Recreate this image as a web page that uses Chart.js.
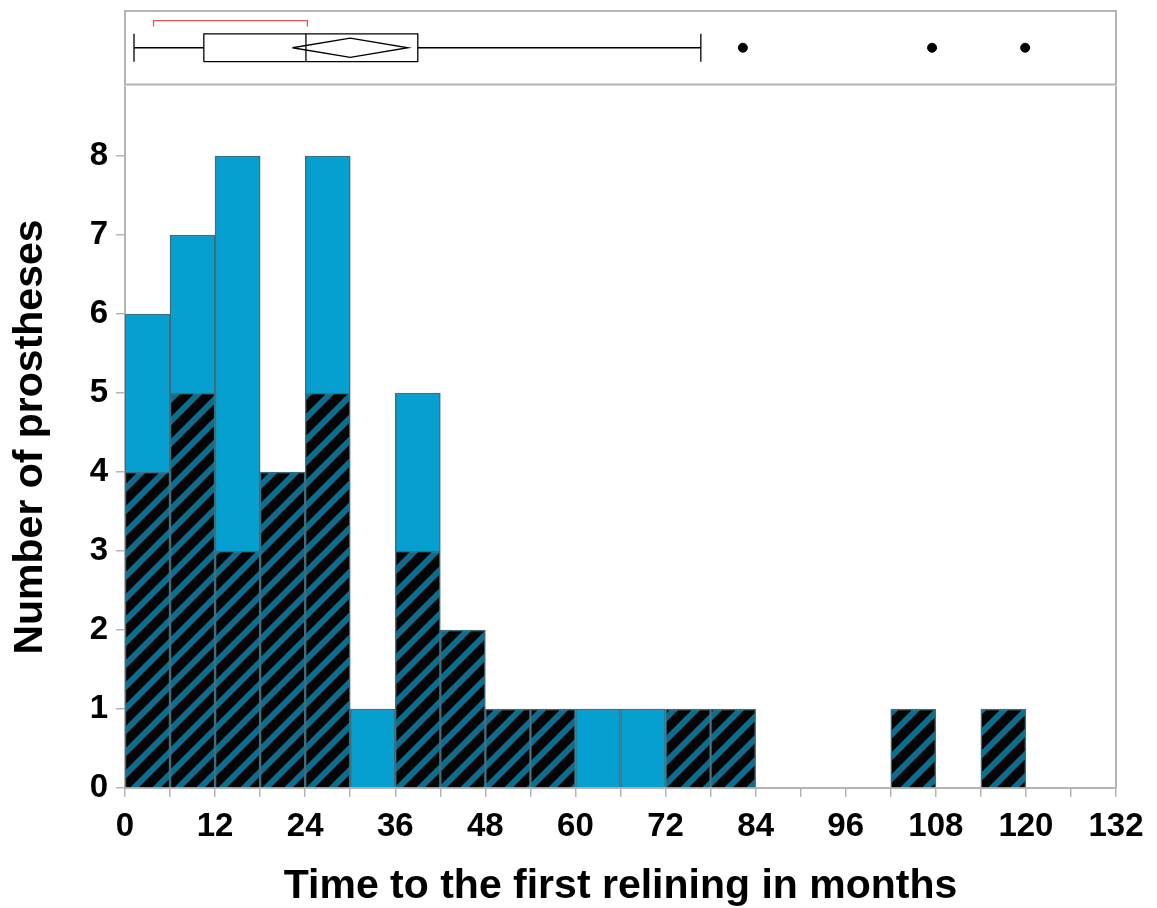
<!DOCTYPE html>
<html>
<head>
<meta charset="utf-8">
<script src="https://cdn.jsdelivr.net/npm/chart.js@4.4.0/dist/chart.umd.min.js"></script>
<style>
  html, body { margin: 0; padding: 0; background: #fff; overflow: hidden; }
  #wrap { position: relative; width: 1157px; height: 908px; overflow: hidden; }
  #histWrap { position: absolute; left: 0; top: 86px; width: 1157px; height: 825px; }
  #boxWrap { position: absolute; left: 0; top: 0; width: 1157px; height: 90px; }
</style>
</head>
<body>
<div id="wrap">
  <div id="histWrap"><canvas id="histChart"></canvas></div>
  <div id="boxWrap"><canvas id="boxChart"></canvas></div>
</div>
<script>
// histogram bins (months), 6-month width
const binStarts = [0, 6, 12, 18, 24, 30, 36, 42, 48, 54, 60, 66, 72, 78, 84, 90, 96, 102, 108, 114, 120, 126];
const binWidth = 6;
const hatchedCounts = [4, 5, 3, 4, 5, 0, 3, 2, 1, 1, 0, 0, 1, 1, 0, 0, 0, 1, 0, 1, 0, 0];
const solidCounts   = [2, 2, 5, 0, 3, 1, 2, 0, 0, 0, 1, 1, 0, 0, 0, 0, 0, 0, 0, 0, 0, 0];
const xTickLabels = [0, 12, 24, 36, 48, 60, 72, 84, 96, 108, 120, 132];

// outlier box plot (months): min whisker, Q1, median, Q3, max whisker
const boxStats = [1.2, 10.5, 24.1, 39.0, 76.7];
const outliers = [82.3, 107.5, 119.9];
const meanDiamond = [22.3, 30.0, 37.7]; // lower CI, mean, upper CI
const shortestHalf = [3.8, 24.3];

const gray = '#b4b4b4';
const font = "'Liberation Sans', Arial, sans-serif";

function makeHatch(ctx) {
    const n = 22;
    const c = document.createElement('canvas');
    c.width = n; c.height = n;
    const g = c.getContext('2d');
    g.fillStyle = '#050505';
    g.fillRect(0, 0, n, n);
    g.strokeStyle = '#0b6e8f';
    g.lineWidth = 6;
    g.beginPath();
    g.moveTo(-5, n + 5); g.lineTo(n + 5, -5);
    g.moveTo(-n - 5, n + 5); g.lineTo(5, -5);
    g.moveTo(n - 5, n + 5); g.lineTo(2 * n + 5, -5);
    g.stroke();
    return ctx.createPattern(c, 'repeat');
}

// right edge of the plot frame
const frameRight = {
    id: 'frameRight',
    afterDraw(chart) {
        const a = chart.chartArea, ctx = chart.ctx;
        ctx.save();
        ctx.strokeStyle = gray;
        ctx.lineWidth = 2;
        ctx.beginPath();
        ctx.moveTo(a.right, a.top);
        ctx.lineTo(a.right, a.bottom);
        ctx.stroke();
        ctx.restore();
    }
};

const frameBox = {
    id: 'frameBox',
    beforeDraw(chart) {
        const a = chart.chartArea, ctx = chart.ctx;
        ctx.save();
        ctx.strokeStyle = gray;
        ctx.lineWidth = 2;
        ctx.strokeRect(a.left, a.top, a.right - a.left, a.bottom - a.top);
        ctx.restore();
    }
};

const histCtx = document.getElementById('histChart').getContext('2d');
const hatch = makeHatch(histCtx);
const centers = binStarts.map(s => s + binWidth / 2);

new Chart(histCtx, {
    type: 'bar',
    data: {
        datasets: [{
            label: 'hatched',
            data: centers.map((x, i) => ({ x: x, y: hatchedCounts[i] || null })),
            backgroundColor: hatch,
            borderColor: '#3d6e80',
            borderWidth: 1.5,
            barPercentage: 1,
            categoryPercentage: 1
        }, {
            label: 'solid',
            data: centers.map((x, i) => ({ x: x, y: solidCounts[i] || null })),
            backgroundColor: '#05a0cf',
            borderColor: '#3d6e80',
            borderWidth: 1.5,
            barPercentage: 1,
            categoryPercentage: 1
        }]
    },
    options: {
        responsive: true,
        maintainAspectRatio: false,
        animation: false,
        layout: { padding: { left: 0, right: 41, top: 0, bottom: 0 } },
        plugins: { legend: { display: false }, tooltip: { enabled: false } },
        scales: {
            x: {
                type: 'linear',
                stacked: true,
                offset: false,
                min: 0,
                max: 132,
                grid: { display: true, offset: false, drawOnChartArea: false, color: gray, tickLength: 9, lineWidth: 1.5 },
                border: { color: gray, width: 2 },
                ticks: {
                    stepSize: 6,
                    autoSkip: false,
                    maxRotation: 0,
                    padding: 10,
                    color: '#000',
                    font: { family: font, size: 33, weight: 'bold' },
                    callback: v => xTickLabels.includes(v) ? v : ''
                },
                title: {
                    display: true,
                    text: 'Time to the first relining in months',
                    color: '#000',
                    font: { family: font, size: 41, weight: 'bold' },
                    padding: { top: 0, bottom: 0 }
                },
                afterFit: s => { s.height = 123; s.paddingLeft = 0; s.paddingRight = 0; }
            },
            y: {
                stacked: true,
                min: 0,
                max: 8.886,
                grid: { display: true, drawOnChartArea: false, color: gray, tickLength: 9, lineWidth: 1.5 },
                border: { color: gray, width: 2 },
                ticks: {
                    stepSize: 1,
                    padding: 8,
                    color: '#000',
                    font: { family: font, size: 33, weight: 'bold' }
                },
                afterBuildTicks: s => { s.ticks = s.ticks.filter(t => Number.isInteger(t.value)); },
                title: {
                    display: true,
                    text: 'Number of prostheses',
                    color: '#000',
                    font: { family: font, size: 41, weight: 'bold' },
                    padding: { top: 6, bottom: 0 }
                },
                afterFit: s => { s.width = 125; s.paddingTop = 0; s.paddingBottom = 0; }
            }
        }
    },
    plugins: [frameRight]
});

// box plot panel
const lo = 0.31, hi = 0.69, mid = 0.5, dh = 0.13;
const lineDs = (pts, color) => ({
    data: pts,
    showLine: true,
    borderColor: color || '#000',
    borderWidth: 1.3,
    pointRadius: 0,
    fill: false
});

new Chart(document.getElementById('boxChart'), {
    type: 'scatter',
    data: {
        datasets: [
            lineDs([{ x: boxStats[1], y: lo }, { x: boxStats[3], y: lo }, { x: boxStats[3], y: hi }, { x: boxStats[1], y: hi }, { x: boxStats[1], y: lo }]),
            lineDs([{ x: boxStats[2], y: lo }, { x: boxStats[2], y: hi }]),
            lineDs([{ x: boxStats[0], y: mid }, { x: boxStats[1], y: mid }]),
            lineDs([{ x: boxStats[3], y: mid }, { x: boxStats[4], y: mid }]),
            lineDs([{ x: boxStats[0], y: lo }, { x: boxStats[0], y: hi }]),
            lineDs([{ x: boxStats[4], y: lo }, { x: boxStats[4], y: hi }]),
            lineDs([{ x: meanDiamond[0], y: mid }, { x: meanDiamond[1], y: mid + dh }, { x: meanDiamond[2], y: mid }, { x: meanDiamond[1], y: mid - dh }, { x: meanDiamond[0], y: mid }]),
            lineDs([{ x: shortestHalf[0], y: 0.79 }, { x: shortestHalf[0], y: 0.87 }, { x: shortestHalf[1], y: 0.87 }, { x: shortestHalf[1], y: 0.79 }], '#e8505e'),
            {
                data: outliers.map(v => ({ x: v, y: mid })),
                pointRadius: 4.5,
                pointBackgroundColor: '#000',
                pointBorderColor: '#000',
                showLine: false
            }
        ]
    },
    options: {
        responsive: true,
        maintainAspectRatio: false,
        animation: false,
        layout: { padding: { left: 125, right: 41, top: 11, bottom: 4 } },
        plugins: { legend: { display: false }, tooltip: { enabled: false } },
        scales: {
            x: { type: 'linear', min: 0, max: 132, display: false },
            y: { type: 'linear', min: 0, max: 1, display: false }
        }
    },
    plugins: [frameBox]
});
</script>
</body>
</html>
